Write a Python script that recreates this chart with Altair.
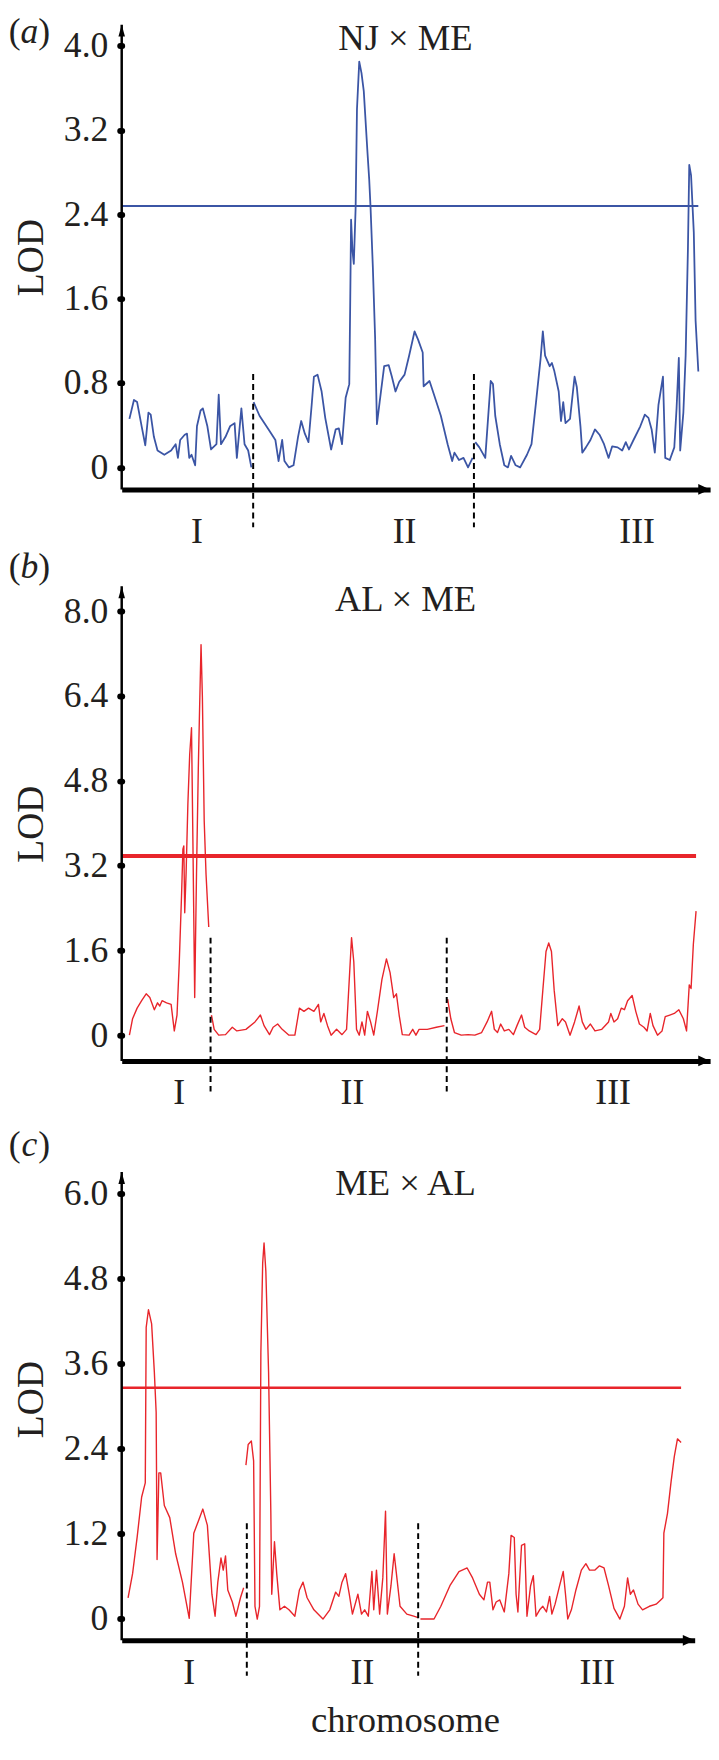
import altair as alt
import pandas as pd

FONT = "Liberation Serif"
INK = "#231f20"
BLUE = "#3b55a5"
RED = "#e8252b"
PX = 0.4585  # pixels per map unit (sizing only)

# ---------------- (a) NJ x ME ----------------
A_I_POS = [17,27,34,44,52,59,64,71,79,94,109,119,124,129,139,144,149,154,162,166,174,179,189,197,209,214,219,229,239,249,254,264,271,279,286]
A_I_LOD = [0.46,0.64,0.62,0.39,0.21,0.52,0.50,0.29,0.16,0.12,0.16,0.22,0.09,0.26,0.31,0.32,0.09,0.12,0.02,0.39,0.54,0.56,0.39,0.17,0.22,0.69,0.22,0.29,0.39,0.42,0.09,0.56,0.22,0.16,0.0]
A_II_POS = [291,304,324,339,346,354,359,369,379,389,396,404,412,419,424,432,441,449,462,472,479,486,494,502,504,506,509,512,516,519,524,529,534,542,546,549,554,559,563,569,579,589,596,604,612,624,634,646,654,664,666,679,689,704,719,729,734,744,754,764,774]
A_II_LOD = [0.62,0.49,0.36,0.26,0.06,0.26,0.06,0.0,0.02,0.29,0.44,0.32,0.24,0.59,0.86,0.88,0.72,0.47,0.17,0.36,0.37,0.22,0.66,0.79,1.53,2.35,2.06,1.93,2.46,3.40,3.85,3.74,3.57,3.00,2.73,2.46,1.90,1.23,0.41,0.62,0.96,0.97,0.86,0.72,0.81,0.88,1.06,1.29,1.21,1.09,0.77,0.82,0.69,0.49,0.22,0.06,0.14,0.07,0.09,0.0,0.09]
A_III_POS = [780,789,802,814,819,824,834,844,852,859,869,879,894,904,914,924,929,934,944,949,954,964,969,974,979,989,999,1004,1012,1016,1024,1034,1044,1054,1064,1074,1082,1094,1104,1112,1119,1129,1144,1154,1162,1169,1176,1184,1194,1199,1209,1219,1224,1229,1232,1239,1244,1249,1252,1256,1262,1266,1272]
A_III_LOD = [0.24,0.19,0.09,0.82,0.79,0.49,0.22,0.02,0.0,0.11,0.02,0.0,0.12,0.22,0.62,1.03,1.29,1.06,0.96,0.99,0.92,0.72,0.44,0.62,0.42,0.46,0.86,0.76,0.39,0.14,0.19,0.26,0.36,0.31,0.22,0.09,0.20,0.19,0.16,0.24,0.17,0.26,0.39,0.50,0.47,0.36,0.14,0.59,0.86,0.09,0.07,0.19,0.56,1.04,0.16,0.52,1.06,2.06,2.87,2.77,2.23,1.39,0.91]
A_THRESHOLD = 2.48
A_DIVIDERS = [290, 777]
A_CHROM_POS = [166, 624, 1137]

# ---------------- (b) AL x ME ----------------
B_I_POS = [17,24,34,44,54,62,72,79,84,89,99,109,116,122,127,132,135,137,139,142,146,150,154,157,161,165,169,172,175,178,182,186,192]
B_I_LOD = [0.0,0.31,0.51,0.65,0.78,0.71,0.48,0.61,0.55,0.65,0.61,0.58,0.08,0.38,1.38,2.64,3.51,3.57,2.31,3.04,4.37,5.30,5.80,3.71,0.71,3.04,5.04,6.24,7.37,6.37,4.04,3.04,2.04]
B_II_POS = [198,204,214,229,244,254,274,294,306,314,326,334,344,354,369,382,392,402,412,424,434,439,446,454,462,474,486,496,502,507,512,518,524,530,536,542,549,556,564,574,584,592,600,606,612,619,634,642,649,656,674,694,712]
B_II_LOD = [0.38,0.11,0.0,0.01,0.15,0.08,0.11,0.25,0.38,0.18,0.01,0.15,0.21,0.11,0.0,0.0,0.51,0.45,0.51,0.45,0.58,0.25,0.41,0.18,0.0,0.11,0.01,0.11,1.05,1.84,1.38,0.11,0.0,0.25,0.0,0.45,0.25,0.0,0.45,1.05,1.44,1.18,0.71,0.78,0.38,0.01,0.0,0.11,0.0,0.11,0.11,0.15,0.18]
B_III_POS = [719,726,734,749,764,779,794,806,816,822,829,836,844,854,864,872,882,889,899,914,922,929,936,942,948,954,962,972,979,989,999,1009,1016,1024,1034,1044,1059,1074,1079,1086,1094,1102,1109,1116,1126,1134,1142,1152,1159,1166,1172,1182,1192,1199,1209,1219,1229,1239,1246,1252,1256,1261,1267]
B_III_LOD = [0.68,0.31,0.05,0.0,0.01,0.0,0.05,0.25,0.45,0.11,0.05,0.21,0.08,0.11,0.01,0.18,0.38,0.15,0.08,0.01,0.11,0.85,1.58,1.74,1.58,0.85,0.18,0.31,0.25,0.0,0.25,0.55,0.25,0.11,0.21,0.08,0.11,0.25,0.41,0.25,0.31,0.51,0.48,0.65,0.75,0.45,0.21,0.15,0.08,0.41,0.18,0.0,0.08,0.35,0.38,0.41,0.48,0.31,0.08,0.95,0.88,1.71,2.34]
B_THRESHOLD = 3.38
B_DIVIDERS = [196, 717]
B_CHROM_POS = [127, 509, 1084]

# ---------------- (c) ME x AL ----------------
C_I_POS = [14,24,34,44,52,54,59,66,72,76,78,82,86,94,106,119,134,149,159,169,179,189,199,206,212,219,224,229,234,244,252,262,269]
C_I_LOD = [0.30,0.64,1.15,1.72,1.92,4.11,4.36,4.16,3.48,2.91,0.84,2.06,2.06,1.60,1.43,0.92,0.52,0.01,1.21,1.38,1.55,1.32,0.35,0.04,0.52,0.86,0.69,0.89,0.41,0.24,0.04,0.30,0.44]
C_II_POS = [274,279,286,291,294,299,304,307,311,314,318,324,329,331,337,342,349,359,369,382,392,400,409,424,444,459,472,479,486,494,502,509,521,529,536,544,552,556,562,569,576,582,586,594,601,606,614,629,644,654]
C_II_LOD = [2.17,2.46,2.51,2.23,0.18,0.0,0.18,3.76,5.02,5.30,4.90,3.48,1.49,0.35,1.09,0.64,0.13,0.18,0.13,0.04,0.41,0.52,0.30,0.13,0.0,0.13,0.38,0.32,0.52,0.64,0.35,0.07,0.35,0.07,0.13,0.04,0.67,0.13,0.69,0.07,0.58,1.52,0.07,0.47,0.92,0.64,0.18,0.07,0.04,0.02]
C_III_POS = [659,689,704,724,744,762,774,789,799,807,812,819,826,834,844,854,859,866,870,874,882,889,894,902,908,914,922,929,937,944,949,956,966,974,979,984,992,1002,1014,1024,1032,1044,1054,1064,1074,1086,1099,1109,1116,1122,1129,1139,1149,1164,1179,1189,1194,1196,1204,1212,1219,1226,1234]
C_III_LOD = [0.0,0.0,0.18,0.47,0.67,0.72,0.58,0.35,0.27,0.52,0.52,0.13,0.24,0.27,0.10,0.64,1.18,1.15,0.35,0.10,1.04,1.06,0.04,0.47,0.61,0.04,0.13,0.18,0.10,0.32,0.07,0.21,0.47,0.67,0.35,0.0,0.13,0.41,0.69,0.78,0.69,0.69,0.75,0.72,0.47,0.15,0.0,0.18,0.58,0.35,0.41,0.21,0.13,0.18,0.21,0.27,0.30,1.21,1.49,1.94,2.29,2.54,2.49]
C_THRESHOLD = 3.26
C_DIVIDERS = [276, 654]
C_CHROM_POS = [149, 531, 1049]

CHROM_NAMES = ["I", "II", "III"]
Y_TICKS_A = [0, 0.8, 1.6, 2.4, 3.2, 4.0]
Y_TICKS_B = [0, 1.6, 3.2, 4.8, 6.4, 8.0]
Y_TICKS_C = [0, 1.2, 2.4, 3.6, 4.8, 6.0]


def curves_df(parts):
    frames = []
    for name, (p, v) in zip(CHROM_NAMES, parts):
        frames.append(pd.DataFrame({"pos": p, "lod": v, "chrom": name}))
    return pd.concat(frames, ignore_index=True)


def panel(parts, color, line_w, xmax, ydom, height, ticks, thr, thr_end, thr_w,
          dividers, div_top, div_bot, chrom_pos, chrom_y, title, title_x,
          title_y, tag, tag_x, tag_y, axis_top, xlabel=None, xlabel_y=None):
    width = round(xmax * PX, 1)
    xs = alt.Scale(domain=[0, xmax], nice=False, zero=False)
    ys = alt.Scale(domain=ydom, nice=False, zero=False)
    x_axis = alt.Axis(labels=False, ticks=False, title=None, grid=False,
                      domainWidth=5, domainColor="black")
    y_axis = alt.Axis(
        values=ticks, grid=False, domain=False,
        labelExpr="datum.value == 0 ? '0' : format(datum.value, '.1f')",
        labelFont=FONT, labelFontSize=36, labelColor=INK, labelPadding=12,
        tickSize=2, tickWidth=6, tickCap="round", tickColor="black",
        title="LOD", titleFont=FONT, titleFontSize=38,
        titleFontWeight="normal", titleColor=INK, titlePadding=13)

    def X(f):
        return alt.X(f, type="quantitative", scale=xs, axis=x_axis)

    def Y(f):
        return alt.Y(f, type="quantitative", scale=ys, axis=y_axis)

    line = alt.Chart(curves_df(parts)).mark_line(
        color=color, strokeWidth=line_w, strokeJoin="round").encode(
        x=X("pos"), y=Y("lod"), detail="chrom:N")

    thr_rule = alt.Chart(pd.DataFrame({"x": [0], "x2": [thr_end], "y": [thr]})).mark_rule(
        color=color, strokeWidth=thr_w).encode(x=X("x"), x2="x2:Q", y=Y("y"))

    y_line = alt.Chart(pd.DataFrame({"x": [0], "y": [ydom[0]], "y2": [axis_top]})).mark_rule(
        color="black", strokeWidth=2.5).encode(x=X("x"), y=Y("y"), y2="y2:Q")

    div_df = pd.DataFrame({"x": dividers, "y": [div_top] * len(dividers),
                           "y2": [div_bot] * len(dividers)})
    divs = alt.Chart(div_df).mark_rule(
        color="black", strokeWidth=2, strokeDash=[6, 4]).encode(
        x=X("x"), y=Y("y"), y2="y2:Q")

    chrom_df = pd.DataFrame({"x": chrom_pos, "y": [chrom_y] * 3, "t": CHROM_NAMES})
    chroms = alt.Chart(chrom_df).mark_text(
        font=FONT, fontSize=36, color=INK, align="center", baseline="middle").encode(
        x=X("x"), y=Y("y"), text="t:N")

    ttl = alt.Chart(pd.DataFrame({"x": [title_x], "y": [title_y], "t": [title]})).mark_text(
        font=FONT, fontSize=37, color=INK, align="center", baseline="alphabetic").encode(
        x=X("x"), y=Y("y"), text="t:N")

    tag_df = pd.DataFrame({"x": [tag_x], "y": [tag_y]})
    tag_l = alt.Chart(tag_df).mark_text(
        text="(", font=FONT, fontSize=36, color=INK, align="right",
        baseline="alphabetic", dx=-9).encode(x=X("x"), y=Y("y"))
    tag_m = alt.Chart(tag_df).mark_text(
        text=tag, font=FONT, fontSize=36, fontStyle="italic", color=INK,
        align="center", baseline="alphabetic").encode(x=X("x"), y=Y("y"))
    tag_r = alt.Chart(tag_df).mark_text(
        text=")", font=FONT, fontSize=36, color=INK, align="left",
        baseline="alphabetic", dx=9).encode(x=X("x"), y=Y("y"))

    up = alt.Chart(pd.DataFrame({"x": [0], "y": [axis_top]})).mark_point(
        shape="M0,0L0.55,2L-0.55,2Z", size=144, filled=True, color="black",
        opacity=1).encode(x=X("x"), y=Y("y"))
    right = alt.Chart(pd.DataFrame({"x": [xmax], "y": [ydom[0]]})).mark_point(
        shape="M0,0L-2,-0.9L-2,0.9Z", size=144, filled=True, color="black",
        opacity=1).encode(x=X("x"), y=Y("y"))

    layers = [line, thr_rule, y_line, divs, chroms, ttl, tag_l, tag_m, tag_r, up, right]
    if xlabel:
        xl = alt.Chart(pd.DataFrame({"x": [title_x], "y": [xlabel_y], "t": [xlabel]})).mark_text(
            font=FONT, fontSize=37, color=INK, align="center", baseline="alphabetic").encode(
            x=X("x"), y=Y("y"), text="t:N")
        layers.append(xl)
    return alt.layer(*layers).properties(width=width, height=height)


pa = panel([(A_I_POS, A_I_LOD), (A_II_POS, A_II_LOD), (A_III_POS, A_III_LOD)],
           BLUE, 1.8, 1298, [-0.209, 4.2], 470, Y_TICKS_A, A_THRESHOLD, 1272, 2,
           A_DIVIDERS, 0.885, -0.569, A_CHROM_POS, -0.614,
           "NJ × ME", 626, 3.96, "a", -203.5, 4.03, 4.2)

pb = panel([(B_I_POS, B_I_LOD), (B_II_POS, B_II_LOD), (B_III_POS, B_III_LOD)],
           RED, 1.4, 1298, [-0.486, 8.47], 480, Y_TICKS_B, B_THRESHOLD, 1267, 4,
           B_DIVIDERS, 1.84, -1.065, B_CHROM_POS, -1.085,
           "AL × ME", 626, 8.0, "b", -203.5, 8.63, 8.47)

pc = panel([(C_I_POS, C_I_LOD), (C_II_POS, C_II_LOD), (C_III_POS, C_III_LOD)],
           RED, 1.4, 1264, [-0.30, 6.501], 488, Y_TICKS_C, C_THRESHOLD, 1234, 2.5,
           C_DIVIDERS, 1.35, -0.80, C_CHROM_POS, -0.757,
           "ME × AL", 626, 5.97, "c", -203.5, 6.53, 6.30,
           xlabel="chromosome", xlabel_y=-1.593)

chart = alt.vconcat(pa, pb, pc, spacing=98, bounds="flush").properties(
    padding={"top": -4, "left": 0, "right": 0, "bottom": 0}
).configure_view(stroke=None)

chart.save("out.html", embed_options={"renderer": "svg", "actions": False})
